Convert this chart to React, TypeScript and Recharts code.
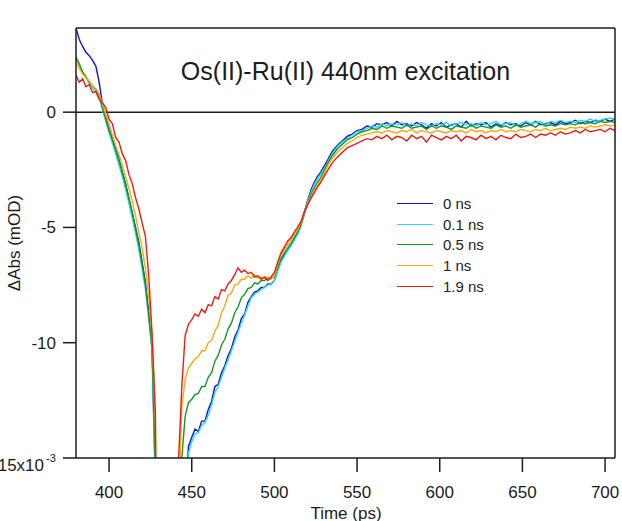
import React from "react";
import { LineChart, Line, XAxis, YAxis, ReferenceLine, Legend } from "recharts";

const FONT = "'Liberation Sans', Arial, Helvetica, sans-serif";
const INK = "#1c1c1c";

// time axis (ps)
const time = [
  380, 382, 384, 386, 388, 390, 392, 394, 396, 398, 400, 402, 404, 406, 408, 410, 412, 414, 416, 418, 420, 422, 424, 426,
  428, 430, 435, 440, 442, 444, 446, 448,
  450, 452, 454, 456, 458, 460, 462, 464, 466, 468, 470, 472, 474, 476, 478, 480, 482, 484, 486, 488, 490, 492, 494, 496, 498,
  500, 502, 504, 506, 508, 510, 512, 514, 516, 518, 520, 522, 524, 526, 528, 530,
  532, 535, 538, 541, 544, 547, 550, 553, 556, 559,
  562, 565, 568, 571, 574, 577, 580, 583, 586, 589,
  592, 595, 598, 601, 604, 607, 610, 613, 616, 619,
  622, 625, 628, 631, 634, 637, 640, 643, 646, 649,
  652, 655, 658, 661, 664, 667, 670, 673, 676, 679,
  682, 685, 688, 691, 694, 697, 700, 703, 706,
];

// ΔAbs (mOD) per delay
const ns0 = [
  3.65, 3.15, 2.85, 2.6, 2.45, 2.25, 2.0, 1.3, 0.35, -0.15, -0.6, -1.05, -1.6, -2.05, -2.6, -3.1, -3.75, -4.35, -5.0, -5.65, -6.5, -7.4, -8.7, -10.2,
  -16, -30, -30, -30, -30, -30, -17.5, -14.5,
  -14.1, -13.75, -13.85, -13.4, -13.4, -12.9, -12.55, -11.9, -11.8, -11.3, -11.0, -10.55, -10.25, -9.75, -9.45, -8.95, -8.75, -8.25, -8.0, -7.8, -7.75, -7.6, -7.6, -7.45, -7.45,
  -7.3, -6.85, -6.45, -6.2, -6.0, -5.75, -5.5, -5.25, -4.9, -4.35, -3.85, -3.4, -3.05, -2.8, -2.6, -2.35,
  -2.1, -1.7, -1.45, -1.25, -1.05, -0.95, -0.8, -0.75, -0.6, -0.65,
  -0.5, -0.55, -0.45, -0.6, -0.4, -0.55, -0.5, -0.6, -0.45, -0.55,
  -0.7, -0.5, -0.6, -0.45, -0.65, -0.55, -0.5, -0.65, -0.4, -0.6,
  -0.5, -0.55, -0.45, -0.65, -0.5, -0.6, -0.45, -0.55, -0.5, -0.6,
  -0.45, -0.55, -0.4, -0.55, -0.5, -0.45, -0.55, -0.4, -0.5, -0.45,
  -0.35, -0.5, -0.4, -0.45, -0.35, -0.4, -0.3, -0.4, -0.3,
];
const ns01 = [
  2.3, 2.0, 1.7, 1.5, 1.25, 1.05, 0.9, 0.65, 0.1, -0.4, -0.9, -1.35, -1.8, -2.3, -2.8, -3.35, -3.95, -4.6, -5.25, -5.95, -6.8, -7.7, -9.0, -10.4,
  -16.5, -30, -30, -30, -30, -30, -20, -14.8,
  -14.3, -13.95, -13.9, -13.6, -13.45, -13.15, -12.7, -12.15, -11.9, -11.5, -11.1, -10.75, -10.35, -9.95, -9.55, -9.15, -8.8, -8.4, -8.05, -7.9, -7.8, -7.7, -7.6, -7.5, -7.45,
  -7.3, -6.9, -6.5, -6.25, -6.0, -5.8, -5.55, -5.3, -4.95, -4.45, -3.9, -3.5, -3.15, -2.9, -2.7, -2.45,
  -2.2, -1.8, -1.5, -1.3, -1.15, -1.0, -0.85, -0.8, -0.7, -0.6,
  -0.65, -0.5, -0.6, -0.5, -0.55, -0.45, -0.6, -0.5, -0.6, -0.45,
  -0.55, -0.6, -0.5, -0.55, -0.45, -0.6, -0.5, -0.45, -0.55, -0.5,
  -0.6, -0.45, -0.55, -0.5, -0.4, -0.55, -0.5, -0.45, -0.6, -0.5,
  -0.4, -0.5, -0.45, -0.4, -0.55, -0.4, -0.45, -0.35, -0.45, -0.4,
  -0.45, -0.35, -0.4, -0.3, -0.4, -0.35, -0.3, -0.25, -0.3,
];
const ns05 = [
  2.4, 2.1, 1.75, 1.55, 1.3, 1.15, 1.0, 0.75, 0.2, -0.3, -0.8, -1.2, -1.65, -2.1, -2.6, -3.15, -3.75, -4.35, -5.05, -5.75, -6.6, -7.5, -8.8, -10.2,
  -15.5, -30, -30, -30, -22, -15.0, -13.2, -12.6,
  -12.45, -12.25, -12.2, -11.9, -11.9, -11.5, -11.3, -10.8, -10.55, -10.1, -9.85, -9.4, -9.15, -8.7, -8.45, -8.05, -7.9, -7.65, -7.6, -7.4, -7.45, -7.3, -7.3, -7.2, -7.2,
  -7.15, -6.7, -6.35, -6.1, -5.9, -5.7, -5.45, -5.2, -4.9, -4.45, -4.0, -3.6, -3.3, -3.05, -2.85, -2.55,
  -2.25, -1.9, -1.6, -1.4, -1.2, -1.1, -0.95, -0.85, -0.8, -0.7,
  -0.75, -0.6, -0.7, -0.6, -0.65, -0.7, -0.55, -0.7, -0.65, -0.6,
  -0.75, -0.6, -0.7, -0.6, -0.65, -0.75, -0.6, -0.65, -0.7, -0.55,
  -0.7, -0.6, -0.65, -0.7, -0.55, -0.65, -0.6, -0.7, -0.55, -0.65,
  -0.6, -0.55, -0.65, -0.5, -0.6, -0.55, -0.6, -0.5, -0.55, -0.5,
  -0.55, -0.45, -0.5, -0.45, -0.5, -0.4, -0.45, -0.4, -0.45,
];
const ns1 = [
  2.3, 1.9, 1.65, 1.5, 1.35, 1.15, 0.95, 0.8, 0.35, -0.1, -0.55, -1.0, -1.45, -1.85, -2.3, -2.8, -3.3, -3.85, -4.5, -5.2, -5.9, -6.8, -8.0, -9.7,
  -13.5, -30, -30, -30, -17, -12.8, -11.6, -11.1,
  -10.9, -10.7, -10.6, -10.35, -10.35, -10.0, -9.9, -9.5, -9.25, -8.7, -8.4, -7.95, -7.85, -7.5, -7.45, -7.25, -7.25, -7.1, -7.2, -7.05, -7.2, -7.15, -7.2, -7.15, -7.25,
  -7.1, -6.6, -6.2, -5.95, -5.75, -5.55, -5.3, -5.1, -4.8, -4.4, -4.0, -3.7, -3.4, -3.15, -2.95, -2.7,
  -2.35, -2.0, -1.75, -1.55, -1.35, -1.25, -1.1, -1.0, -0.95, -0.9,
  -0.85, -0.9, -0.8, -0.85, -0.9, -0.8, -0.85, -0.75, -0.9, -0.8,
  -0.85, -0.9, -0.8, -0.85, -0.9, -0.8, -0.85, -0.8, -0.9, -0.75,
  -0.85, -0.8, -0.9, -0.8, -0.85, -0.75, -0.85, -0.8, -0.85, -0.75,
  -0.8, -0.85, -0.75, -0.8, -0.7, -0.8, -0.75, -0.7, -0.75, -0.65,
  -0.7, -0.65, -0.7, -0.6, -0.65, -0.6, -0.55, -0.6, -0.55,
];
const ns19 = [
  1.6, 1.3, 1.45, 1.1, 1.2, 0.85, 0.9, 0.55, 0.4, 0.2, -0.3, -0.5, -1.1, -1.3, -1.8, -2.1, -2.7, -3.1, -3.7, -4.2, -4.8, -5.4, -7.1, -9.6,
  -13.0, -30, -30, -30, -15.1, -11.9, -9.7, -9.2,
  -9.0, -8.75, -8.85, -8.55, -8.7, -8.35, -8.4, -8.0, -8.1, -7.7, -7.75, -7.45, -7.3, -7.05, -6.75, -6.95, -6.85, -7.0, -6.95, -7.15, -7.1, -7.25, -7.15, -7.3, -7.15,
  -6.95, -6.5, -6.1, -5.85, -5.6, -5.45, -5.2, -5.0, -4.75, -4.35, -4.05, -3.75, -3.5, -3.25, -3.05, -2.8,
  -2.55, -2.2, -1.95, -1.75, -1.55, -1.45, -1.35, -1.25, -1.15, -1.2,
  -1.05, -1.15, -1.0, -1.2, -1.05, -1.1, -1.25, -1.0, -1.15, -1.05,
  -1.3, -1.0, -1.1, -1.2, -1.05, -1.15, -1.0, -1.25, -1.05, -1.1,
  -1.2, -1.0, -1.15, -1.05, -1.2, -1.0, -1.1, -1.15, -0.95, -1.1,
  -1.05, -0.95, -1.1, -0.95, -1.0, -0.9, -1.0, -0.85, -0.95, -0.9,
  -0.8, -0.9, -0.75, -0.85, -0.8, -0.75, -0.85, -0.7, -0.8,
];

const seriesKeys = ["s0", "s01", "s05", "s1", "s19"];
const seriesNames = ["0 ns", "0.1 ns", "0.5 ns", "1 ns", "1.9 ns"];
const seriesColors = ["#1414c8", "#22dde8", "#17952a", "#f7aa12", "#ee1a14"];
const seriesValues = [ns0, ns01, ns05, ns1, ns19];

const xTicks = [400, 450, 500, 550, 600, 650, 700];
const yTicks = [-15, -10, -5, 0];

const rows = time.map((t, i) => {
  const row: Record<string, number> = { t };
  seriesKeys.forEach((k, j) => {
    row[k] = seriesValues[j][i];
  });
  return row;
});

const renderYTick = (props: any) => {
  const { x, y, payload } = props;
  if (payload.value === -15) {
    // bottom label carries the x10^-3 scale, as in the original
    return (
      <g>
        <text x={x - 12} y={y + 13} textAnchor="end" fill={INK} fontSize={17} fontFamily={FONT}>
          -15x10
        </text>
        <text x={x - 10} y={y + 4} textAnchor="start" fill={INK} fontSize={11} fontFamily={FONT}>
          -3
        </text>
      </g>
    );
  }
  return (
    <text x={x} y={y + 6} textAnchor="end" fill={INK} fontSize={17} fontFamily={FONT}>
      {payload.value}
    </text>
  );
};

const caption = (cx: number, cy: number, size: number, text: string, rotate?: number) => () =>
  (
    <text
      x={cx}
      y={cy}
      textAnchor="middle"
      fill={INK}
      fontSize={size}
      fontFamily={FONT}
      transform={rotate ? `rotate(${rotate} ${cx} ${cy})` : undefined}
    >
      {text}
    </text>
  );

const Key = () => (
  <div style={{ fontFamily: FONT, fontSize: 15, color: "#222" }}>
    {seriesNames.map((name, i) => (
      <div key={name} style={{ display: "flex", alignItems: "center", height: 20.7 }}>
        <div style={{ width: 36, borderTop: `1.5px solid ${seriesColors[i]}`, marginRight: 10 }} />
        <span>{name}</span>
      </div>
    ))}
  </div>
);

const axisStroke = { stroke: INK, strokeWidth: 1.5 };

export default function App() {
  return (
    <div style={{ position: "absolute", left: 0, top: 0, width: 622, height: 521, background: "#fff" }}>
      <LineChart width={622} height={521} data={rows} margin={{ top: 0, right: 0, bottom: 33, left: 16 }}>
        <XAxis
          xAxisId="b"
          dataKey="t"
          type="number"
          domain={[380, 706]}
          ticks={xTicks}
          allowDataOverflow
          height={30}
          tickSize={14}
          tickMargin={14}
          axisLine={axisStroke}
          tickLine={axisStroke}
          tick={{ fill: INK, fontSize: 17, fontFamily: FONT }}
          label={{ content: caption(346, 519, 17, "Time (ps)") }}
        />
        <XAxis
          xAxisId="t"
          orientation="top"
          dataKey="t"
          type="number"
          domain={[380, 706]}
          ticks={xTicks}
          allowDataOverflow
          height={28}
          tickSize={14}
          axisLine={axisStroke}
          tickLine={axisStroke}
          tick={false}
          label={{ content: caption(345.5, 80, 25, "Os(II)-Ru(II) 440nm excitation") }}
        />
        <YAxis
          yAxisId="l"
          type="number"
          domain={[-15, 3.65]}
          ticks={yTicks}
          allowDataOverflow
          width={60}
          tickSize={13}
          tickMargin={7}
          axisLine={axisStroke}
          tickLine={axisStroke}
          tick={renderYTick}
          label={{ content: caption(20, 243, 17, "ΔAbs (mOD)", -90) }}
        />
        <YAxis
          yAxisId="r"
          orientation="right"
          type="number"
          domain={[-15, 3.65]}
          allowDataOverflow
          width={7}
          axisLine={axisStroke}
          tickLine={false}
          tick={false}
        />
        <ReferenceLine xAxisId="b" yAxisId="l" y={0} stroke={INK} strokeWidth={1.5} />
        <Legend
          layout="vertical"
          align="center"
          verticalAlign="middle"
          content={() => <Key />}
          wrapperStyle={{ left: 397, top: 193, width: 130, height: 110 }}
        />
        {seriesKeys.map((k, i) => (
          <Line
            key={k}
            xAxisId="b"
            yAxisId="l"
            type="linear"
            dataKey={k}
            name={seriesNames[i]}
            stroke={seriesColors[i]}
            strokeWidth={1.4}
            dot={false}
            activeDot={false}
            isAnimationActive={false}
          />
        ))}
      </LineChart>
    </div>
  );
}
